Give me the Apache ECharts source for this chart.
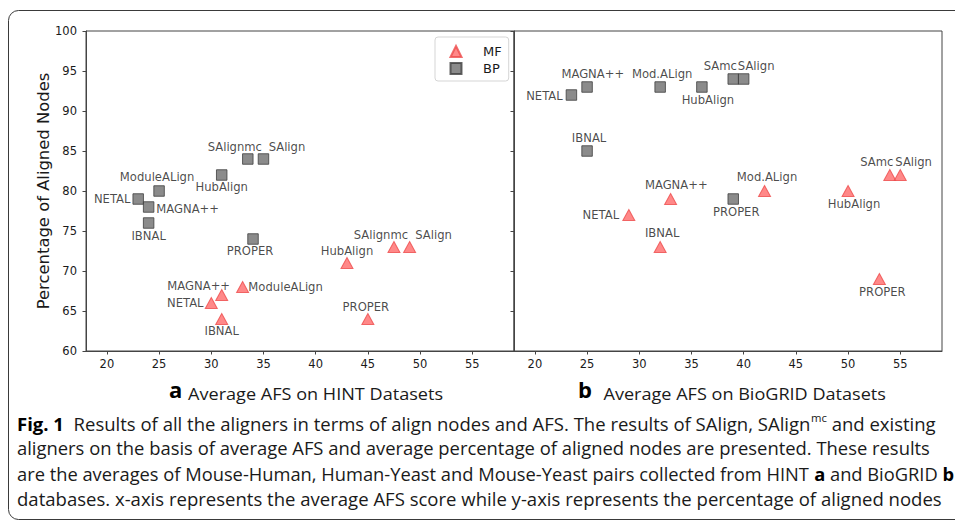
<!DOCTYPE html>
<html>
<head>
<meta charset="utf-8">
<script src="https://cdn.jsdelivr.net/npm/echarts@6/dist/echarts.min.js"></script>
<style>
html,body{margin:0;padding:0;background:#fff;}
#chart{width:955px;height:521px;}
</style>
</head>
<body>
<div id="chart"></div>
<script>
// ---------- data ----------
const hintNames = ['NETAL', 'MAGNA++', 'IBNAL', 'ModuleALign', 'HubAlign', 'SAlignmc', 'SAlign', 'PROPER'];
const hintMfAfs = [30, 31, 31, 33, 43, 47.5, 49, 45];
const hintMfNodes = [66, 67, 64, 68, 71, 73, 73, 64];
const hintBpAfs = [23, 24, 24, 25, 31, 33.5, 35, 34];
const hintBpNodes = [79, 78, 76, 80, 82, 84, 84, 74];

const biogridNames = ['NETAL', 'MAGNA++', 'IBNAL', 'Mod.ALign', 'HubAlign', 'SAmc', 'SAlign', 'PROPER'];
const biogridMfAfs = [29, 33, 32, 42, 50, 54, 55, 53];
const biogridMfNodes = [77, 79, 73, 80, 80, 82, 82, 69];
const biogridBpAfs = [23.5, 25, 25, 32, 36, 39, 40, 39];
const biogridBpNodes = [92, 93, 85, 93, 93, 94, 94, 79];

const seriesNames = ['MF', 'BP'];
const xTicks = [20, 25, 30, 35, 40, 45, 50, 55];
const yTicks = [60, 65, 70, 75, 80, 85, 90, 95, 100];
const yAxisTitle = 'Percentage of Aligned Nodes';
const panelLetters = ['a', 'b'];
const panelTitles = ['Average AFS on HINT Datasets', 'Average AFS on BioGRID Datasets'];

// ---------- layout (label offsets in px, relative to marker centre) ----------
const hintMfLabelOff = [[-26, 0], [-23, -9], [0, 12], [43, 0], [0, -12], [-13, -12], [24, -12], [-2, -12]];
const hintBpLabelOff = [[-26, 0], [39, 2], [0, 12.5], [-2, -14], [0, 12], [-13, -12], [23.5, -12], [-3, 12]];
const bioMfLabelOff = [[-28, 0], [5.7, -14], [2, -13.6], [2.5, -14], [6, 12.5], [-13, -13.3], [13.4, -13.3], [3, 12.7]];
const bioBpLabelOff = [[-27, 0.5], [5.7, -13], [2, -13.4], [2, -13], [6, 12.5], [-13, -12.7], [12.5, -12.7], [3, 13]];

const MONO = "'DejaVu Sans', sans-serif";
const CAP = "'Open Sans', 'Noto Sans', sans-serif";
const TXT = '#1a1a1a';
const AXC = '#444';

function points(names, xs, ys, offs) {
  return names.map((n, i) => ({ name: n, value: [xs[i], ys[i]], label: { offset: offs[i] } }));
}

const mfStyle = { symbol: 'triangle', symbolSize: [12, 11], itemStyle: { color: '#ff6a6a', borderColor: '#ee4b4b', borderWidth: 1 } };
const bpStyle = { symbol: 'rect', symbolSize: 10.5, itemStyle: { color: '#6e6e6e', borderColor: '#3e3e3e', borderWidth: 1 } };
const labelStyle = { show: true, position: 'inside', formatter: '{b}', color: TXT, fontFamily: MONO, fontSize: 11.6, align: 'center', verticalAlign: 'middle' };

function scatter(name, gi, data, style) {
  return Object.assign({
    type: 'scatter', name: name, xAxisIndex: gi, yAxisIndex: gi, data: data,
    label: labelStyle, emphasis: { disabled: true }, silent: true, z: 3
  }, style);
}

function xAx(gi) {
  return {
    gridIndex: gi, type: 'value', min: 18, max: 59,
    axisLine: { show: true, onZero: false, lineStyle: { color: AXC, width: 1 } },
    axisTick: { show: true, length: 3.5, customValues: xTicks, lineStyle: { color: AXC } },
    axisLabel: { customValues: xTicks, margin: 7, color: TXT, fontFamily: MONO, fontSize: 11.5 },
    splitLine: { show: false }
  };
}
function yAx(gi) {
  const a = {
    gridIndex: gi, type: 'value', min: yTicks[0], max: yTicks[yTicks.length - 1], interval: 5,
    axisLine: { show: true, onZero: false, lineStyle: { color: AXC, width: 1 } },
    axisTick: { show: true, length: 3.5, lineStyle: { color: AXC } },
    axisLabel: { show: gi === 0, margin: 9, color: TXT, fontFamily: MONO, fontSize: 11.5 },
    splitLine: { show: false }
  };
  if (gi === 0) {
    a.name = yAxisTitle;
    a.nameLocation = 'middle';
    a.nameGap = 35;
    a.nameTextStyle = { fontFamily: MONO, fontSize: 16.4, color: TXT };
  }
  return a;
}

// ---------- caption text fitting ----------
const mctx = document.createElement('canvas').getContext('2d');
function measure(text, font) { mctx.font = font; return mctx.measureText(text).width; }
const FN = "18px " + CAP, FB = "bold 18px " + CAP, FS = "11px " + CAP;

function captionLine(segs, x, baseline, right) {
  let w = 0, txt = '';
  segs.forEach(s => {
    const f = s[1] === 'b' ? FB : (s[1] === 's' ? FS : FN);
    w += measure(s[0], f);
    txt += '{' + s[1] + '|' + s[0] + '}';
  });
  return {
    type: 'text', x: x, y: baseline - 6.5, scaleX: (right - x) / w, silent: true,
    style: {
      text: txt, verticalAlign: 'middle', align: 'left', fill: TXT,
      rich: {
        n: { fontFamily: CAP, fontSize: 18, lineHeight: 22, fill: TXT },
        b: { fontFamily: CAP, fontSize: 18, fontWeight: 'bold', lineHeight: 22, fill: '#000' },
        s: { fontFamily: CAP, fontSize: 11, lineHeight: 22, padding: [0, 0, 11, 0], fill: TXT }
      }
    }
  };
}
function panelTitle(letter, title, lx, tx, right, baseline) {
  const w = measure(title, "16px " + CAP);
  return [
    { type: 'text', x: lx, y: baseline, silent: true,
      style: { text: letter, fontFamily: CAP, fontSize: 22, fontWeight: 'bold', fill: '#000', verticalAlign: 'bottom', align: 'left' } },
    { type: 'text', x: tx, y: baseline - 5.8, scaleX: (right - tx) / w, silent: true,
      style: { text: title, fontFamily: CAP, fontSize: 16, fill: TXT, verticalAlign: 'middle', align: 'left' } }
  ];
}

const graphics = [
  { type: 'rect', silent: true, shape: { x: 8.5, y: 10.5, width: 1000, height: 509, r: 10 },
    style: { fill: 'none', stroke: '#3a3a3a', lineWidth: 1 } }
].concat(
  panelTitle(panelLetters[0], panelTitles[0], 169, 188, 443, 400),
  panelTitle(panelLetters[1], panelTitles[1], 578, 603.5, 886, 400),
  [
    captionLine([['Fig. 1', 'b'], ['  Results of all the aligners in terms of align nodes and AFS. The results of SAlign, SAlign', 'n'], ['mc', 's'], [' and existing', 'n']], 17, 430, 936),
    captionLine([['aligners on the basis of average AFS and average percentage of aligned nodes are presented. These results', 'n']], 17, 455, 931),
    captionLine([['are the averages of Mouse-Human, Human-Yeast and Mouse-Yeast pairs collected from HINT ', 'n'], ['a', 'b'], [' and BioGRID ', 'n'], ['b', 'b']], 17, 480.5, 954),
    captionLine([['databases. x-axis represents the average AFS score while y-axis represents the percentage of aligned nodes', 'n']], 17, 505, 942)
  ]
);

const chart = echarts.init(document.getElementById('chart'), null, { renderer: 'svg' });
chart.setOption({
  animation: false,
  backgroundColor: '#fff',
  grid: [
    { left: 86, top: 31, width: 428, height: 320, show: true, borderColor: AXC, borderWidth: 1, backgroundColor: 'transparent' },
    { left: 514, top: 31, width: 428, height: 320, show: true, borderColor: AXC, borderWidth: 1, backgroundColor: 'transparent' }
  ],
  xAxis: [xAx(0), xAx(1)],
  yAxis: [yAx(0), yAx(1)],
  legend: {
    left: 435, top: 37, orient: 'vertical', selectedMode: false,
    data: [{ name: seriesNames[0], icon: 'triangle' }, { name: seriesNames[1], icon: 'rect' }],
    itemWidth: 11, itemHeight: 11, itemGap: 4, padding: [8, 7, 6, 14.5],
    borderColor: '#d5d5d5', borderWidth: 1, borderRadius: 3, backgroundColor: 'rgba(255,255,255,0.85)',
    textStyle: { fontFamily: MONO, fontSize: 13, color: TXT, padding: [0, 0, 0, 16.5] }
  },
  series: [
    scatter(seriesNames[0], 0, points(hintNames, hintMfAfs, hintMfNodes, hintMfLabelOff), mfStyle),
    scatter(seriesNames[1], 0, points(hintNames, hintBpAfs, hintBpNodes, hintBpLabelOff), bpStyle),
    scatter(seriesNames[0], 1, points(biogridNames, biogridMfAfs, biogridMfNodes, bioMfLabelOff), mfStyle),
    scatter(seriesNames[1], 1, points(biogridNames, biogridBpAfs, biogridBpNodes, bioBpLabelOff), bpStyle)
  ],
  graphic: graphics
});
</script>
</body>
</html>
